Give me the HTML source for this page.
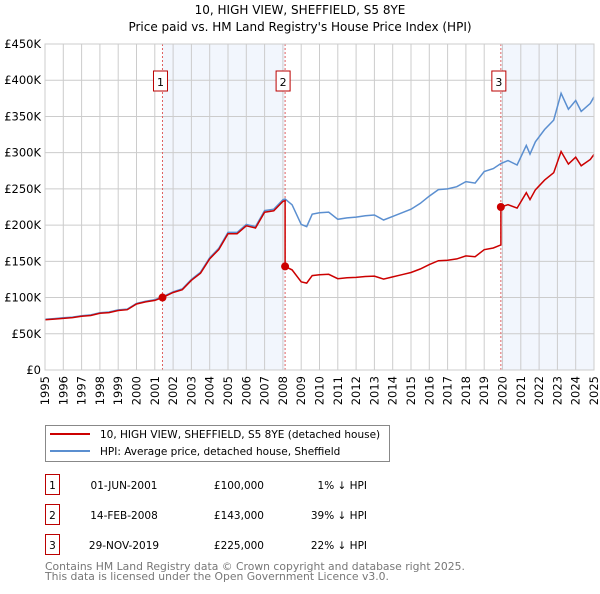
<!DOCTYPE html>
<html><head><meta charset="utf-8">
<style>
body{margin:0;background:#fff;font-family:"DejaVu Sans","Liberation Sans",sans-serif;}
svg text{font-family:"DejaVu Sans","Liberation Sans",sans-serif;}
</style></head>
<body>
<svg width="600" height="590" viewBox="0 0 600 590" xmlns="http://www.w3.org/2000/svg">
<text x="300" y="14" text-anchor="middle" font-size="12">10, HIGH VIEW, SHEFFIELD, S5 8YE</text>
<text x="300" y="31" text-anchor="middle" font-size="12">Price paid vs. HM Land Registry's House Price Index (HPI)</text>
<g id="plot"></g>
<g>
<rect x="45.5" y="425.5" width="344" height="36" fill="#fff" stroke="#888"/>
<line x1="50" y1="434" x2="90" y2="434" stroke="#cc0000" stroke-width="2"/>
<text x="100" y="438" font-size="10.5">10, HIGH VIEW, SHEFFIELD, S5 8YE (detached house)</text>
<line x1="50" y1="451" x2="90" y2="451" stroke="#5b8fd0" stroke-width="2"/>
<text x="100" y="455" font-size="10.5">HPI: Average price, detached house, Sheffield</text>
</g>
<g id="table" font-size="10.5"></g>
<text x="45" y="570" font-size="10.8" fill="#777">Contains HM Land Registry data © Crown copyright and database right 2025.</text>
<text x="45" y="580" font-size="10.8" fill="#777">This data is licensed under the Open Government Licence v3.0.</text>
</svg>
<script>
const hpiYears=[1995,1995.5,1996,1996.5,1997,1997.5,1998,1998.5,1999,1999.5,2000,2000.5,2001,2001.42,2002,2002.5,2003,2003.5,2004,2004.5,2005,2005.5,2006,2006.5,2007,2007.5,2008,2008.12,2008.5,2009,2009.3,2009.6,2010,2010.5,2011,2011.5,2012,2012.5,2013,2013.5,2014,2014.5,2015,2015.5,2016,2016.5,2017,2017.5,2018,2018.5,2019,2019.5,2019.91,2020.3,2020.8,2021.3,2021.5,2021.8,2022.3,2022.8,2023.2,2023.6,2024,2024.3,2024.8,2025];
const hpiValues=[70,71,72,73,75,76,79,80,83,84,92,95,97,101,108,112,125,135,155,168,190,190,201,198,220,222,235,236,228,201,198,215,217,218,208,210,211,213,214,207,212,217,222,230,240,249,250,253,260,258,274,278,285,289,283,310,298,315,332,345,382,360,372,357,368,377];
const saleYears=[2001.42,2008.12,2019.91];
const salePrices=[100,143,225];
const saleLabels=["1","2","3"];
const saleDates=["01-JUN-2001","14-FEB-2008","29-NOV-2019"];
const salePriceText=["£100,000","£143,000","£225,000"];
const saleHpiText=["1% ↓ HPI","39% ↓ HPI","22% ↓ HPI"];
const yTicks=[0,50,100,150,200,250,300,350,400,450];
const yTickLabels=["£0","£50K","£100K","£150K","£200K","£250K","£300K","£350K","£400K","£450K"];
const xTicks=[];for(let y=1995;y<=2025;y++)xTicks.push(y);

const L=45,R=594,T=44,B=370;
const X=v=>L+(v-1995)/30*(R-L);
const Y=v=>B-v/450*(B-T);
const NS="http://www.w3.org/2000/svg";
const plot=document.getElementById('plot');
function mk(tag,attrs,parent){const e=document.createElementNS(NS,tag);for(const k in attrs)e.setAttribute(k,attrs[k]);(parent||plot).appendChild(e);return e;}
function hpiAt(t){for(let i=0;i<hpiYears.length-1;i++){if(t>=hpiYears[i]&&t<=hpiYears[i+1]){const f=(t-hpiYears[i])/(hpiYears[i+1]-hpiYears[i]);return hpiValues[i]+f*(hpiValues[i+1]-hpiValues[i]);}}return hpiValues[hpiValues.length-1];}

for(let i=0;i<saleYears.length;i++){
  if(i===1)continue;
  const x1=X(saleYears[i]),x2=i+1<saleYears.length?X(saleYears[i+1]):R;
  const r=mk('rect',{x:x1,y:T,width:x2-x1,height:B-T,fill:'#f2f6fd'});
  
  
}
yTicks.forEach((v,i)=>{
  const l=mk('line',{x1:L,x2:R,y1:Y(v),y2:Y(v),stroke:'#ccc','stroke-width':1});
  
  
  const t=mk('text',{x:L-4,y:Y(v)+4,'text-anchor':'end','font-size':11.5});
  
  
  t.textContent=yTickLabels[i];
});
xTicks.forEach(v=>{
  const l=mk('line',{x1:X(v),x2:X(v),y1:T,y2:B,stroke:'#ccc','stroke-width':1});
  
  
  const t=mk('text',{x:0,y:0,'text-anchor':'end','font-size':11.5,transform:`translate(${X(v)+4},${B+6}) rotate(-90)`});
  
  
  t.textContent=v;
});
saleYears.forEach((s,i)=>{
  const l=mk('line',{x1:X(s),x2:X(s),y1:T,y2:B,stroke:'#e06060','stroke-width':1,'stroke-dasharray':'2,2'});
  
  
  const bx=X(s)-8;
  const g=mk('g',{});
  
  
  mk('rect',{x:bx-1,y:71,width:14,height:20,fill:'#fff',stroke:'#b00','stroke-width':1},g);
  const t=mk('text',{x:bx+6,y:86,'text-anchor':'middle','font-size':11},g);
  t.textContent=saleLabels[i];
});
let d='';hpiYears.forEach((t,i)=>{d+=(i?'L':'M')+X(t).toFixed(1)+','+Y(hpiValues[i]).toFixed(1);});
const hp=mk('path',{d:d,fill:'none',stroke:'#5b8fd0','stroke-width':1.5});


let pts=[];
hpiYears.forEach((t,i)=>{
  let k=-1;for(let j=0;j<saleYears.length;j++)if(t>=saleYears[j])k=j;
  const ref=k<0?0:k;
  const ratio=salePrices[ref]/hpiAt(saleYears[ref]);
  if(k>=0&&Math.abs(t-saleYears[k])<1e-6){
    if(k>0){pts.push([t,hpiValues[i]*salePrices[k-1]/hpiAt(saleYears[k-1])]);}
    pts.push([t,salePrices[k]]);
  } else pts.push([t,hpiValues[i]*ratio]);
});
let d2='';pts.forEach((p,i)=>{d2+=(i?'L':'M')+X(p[0]).toFixed(1)+','+Y(p[1]).toFixed(1);});
const pp=mk('path',{d:d2,fill:'none',stroke:'#cc0000','stroke-width':1.5});


saleYears.forEach((s,i)=>{
  const c=mk('circle',{cx:X(s),cy:Y(salePrices[i]),r:4,fill:'#cc0000'});
  
  
});
mk('rect',{x:L,y:T,width:R-L,height:B-T,fill:'none',stroke:'#ccc'});
const tb=document.getElementById('table');
saleYears.forEach((s,i)=>{
  const y=485+i*30;
  const g=mk('g',{},tb);
  
  
  mk('rect',{x:45.5,y:y-10.5,width:14,height:20,fill:'#fff',stroke:'#b00'},g);
  let t=mk('text',{x:52.5,y:y+4,'text-anchor':'middle'},g);t.textContent=saleLabels[i];
  t=mk('text',{x:124,y:y+4,'text-anchor':'middle'},g);t.textContent=saleDates[i];
  t=mk('text',{x:264,y:y+4,'text-anchor':'end'},g);t.textContent=salePriceText[i];
  t=mk('text',{x:367,y:y+4,'text-anchor':'end'},g);t.textContent=saleHpiText[i];
});
</script>
</body></html>
